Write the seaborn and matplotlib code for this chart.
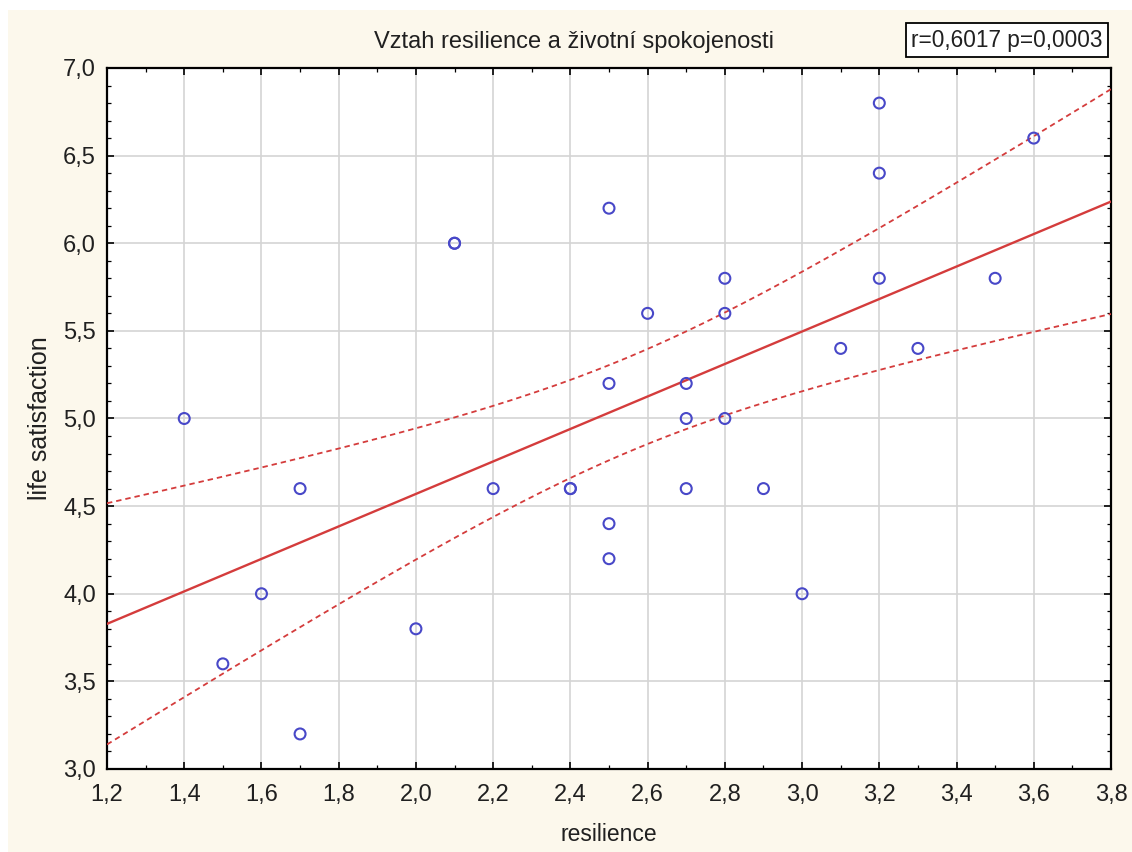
import numpy as np
import pandas as pd
import matplotlib
matplotlib.use("Agg")
import matplotlib.pyplot as plt
import seaborn as sns
from matplotlib.ticker import MultipleLocator, FuncFormatter
from matplotlib.patches import Rectangle

# ---- data ----
resilience = [1.4, 1.5, 1.6, 1.7, 1.7, 2.0, 2.1, 2.1, 2.2, 2.4, 2.4,
              2.5, 2.5, 2.5, 2.5, 2.6, 2.7, 2.7, 2.7, 2.8, 2.8, 2.8,
              2.9, 3.0, 3.1, 3.2, 3.2, 3.2, 3.3, 3.5, 3.6]
life_satisfaction = [5.0, 3.6, 4.0, 4.6, 3.2, 3.8, 6.0, 6.0, 4.6, 4.6, 4.6,
                     6.2, 5.2, 4.4, 4.2, 5.6, 5.2, 5.0, 4.6, 5.8, 5.6, 5.0,
                     4.6, 4.0, 5.4, 6.8, 6.4, 5.8, 5.4, 5.8, 6.6]
x_ticks = [1.2, 1.4, 1.6, 1.8, 2.0, 2.2, 2.4, 2.6, 2.8, 3.0, 3.2, 3.4, 3.6, 3.8]
y_ticks = [3.0, 3.5, 4.0, 4.5, 5.0, 5.5, 6.0, 6.5, 7.0]
title = "Vztah resilience a životní spokojenosti"
stats_label = "r=0,6017 p=0,0003"
x_label = "resilience"
y_label = "life satisfaction"

df = pd.DataFrame({"resilience": resilience, "life satisfaction": life_satisfaction})

sns.set_theme(style="white")
plt.rcParams["font.family"] = ["Liberation Sans", "DejaVu Sans"]

W, H = 1132, 852
fig = plt.figure(figsize=(W / 100, H / 100), dpi=100, facecolor="white")
# beige panel background
fig.patches.append(Rectangle((8 / W, 0), 1 - 8 / W, 1 - 10 / H, transform=fig.transFigure,
                             facecolor="#FCF8EC", edgecolor="none", zorder=-10))

ax = fig.add_axes([107 / W, 1 - 769 / H, (1111 - 107) / W, (769 - 68) / H])
ax.set_facecolor("white")
ax.set_xlim(x_ticks[0], x_ticks[-1])
ax.set_ylim(y_ticks[0], y_ticks[-1])

# regression line + confidence band (computed from the data)
x = np.asarray(resilience)
y = np.asarray(life_satisfaction)
n = len(x)
b1, b0 = np.polyfit(x, y, 1)
xs = np.linspace(x_ticks[0], x_ticks[-1], 200)
yhat = b0 + b1 * xs
resid = y - (b0 + b1 * x)
s = np.sqrt(np.sum(resid ** 2) / (n - 2))
sxx = np.sum((x - x.mean()) ** 2)
tcrit = 2.045  # t(0.975, df=29)
half = tcrit * s * np.sqrt(1 / n + (xs - x.mean()) ** 2 / sxx)
band = pd.DataFrame({"x": xs, "fit": yhat, "lo": yhat - half, "hi": yhat + half})

red = "#D43C3C"
sns.lineplot(data=band, x="x", y="fit", ax=ax, color=red, lw=1.7, zorder=3)
sns.lineplot(data=band, x="x", y="hi", ax=ax, color=red, lw=1.3, zorder=3).lines[-1].set_dashes([3, 2.2])
sns.lineplot(data=band, x="x", y="lo", ax=ax, color=red, lw=1.3, zorder=3).lines[-1].set_dashes([3, 2.2])

sns.scatterplot(data=df, x="resilience", y="life satisfaction", ax=ax,
                s=62, facecolor="none", edgecolor="#4848C8", linewidth=1.5, zorder=4)

# axes styling
ax.xaxis.set_major_locator(MultipleLocator(0.2))
ax.xaxis.set_minor_locator(MultipleLocator(0.1))
ax.yaxis.set_major_locator(MultipleLocator(0.5))
ax.yaxis.set_minor_locator(MultipleLocator(0.1))
comma = FuncFormatter(lambda v, p: f"{v:.1f}".replace(".", ","))
ax.xaxis.set_major_formatter(comma)
ax.yaxis.set_major_formatter(comma)
ax.grid(True, which="major", color="#D4D4D4", lw=1.2, zorder=0)
ax.set_axisbelow(True)
for sp in ax.spines.values():
    sp.set_visible(True)
    sp.set_color("black")
    sp.set_linewidth(1.6)
ax.tick_params(which="both", direction="in", top=True, right=True, bottom=True, left=True,
               colors="black", labelcolor="#202020")
ax.tick_params(which="major", length=5, width=1.2, labelsize=17)
ax.tick_params(axis="x", which="major", pad=11)
ax.tick_params(axis="y", which="major", pad=8)
ax.tick_params(which="minor", length=3, width=0.9)

ax.set_xlabel(x_label, fontsize=16.5, color="#202020", labelpad=12)
ax.set_ylabel(y_label, fontsize=18, color="#202020", labelpad=8)

fig.text(574 / W, 1 - 42 / H, title, ha="center", va="center", fontsize=17, color="#202020")
fig.text(1007 / W, 1 - 40 / H, stats_label, ha="center", va="center", fontsize=16.3, color="#202020",
         bbox=dict(boxstyle="square,pad=0.25", facecolor="white", edgecolor="black", lw=1.3))

fig.savefig("out.png", dpi=100, facecolor=fig.get_facecolor())
